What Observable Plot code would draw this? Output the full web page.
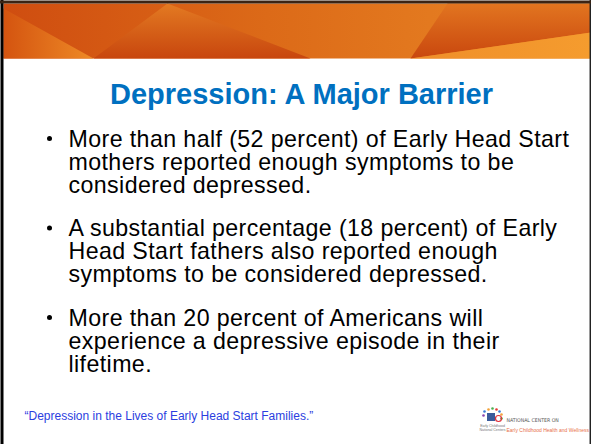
<!DOCTYPE html>
<html>
<head>
<meta charset="utf-8">
<script src="https://cdn.jsdelivr.net/npm/d3@7"></script>
<script src="https://cdn.jsdelivr.net/npm/@observablehq/plot@0.6"></script>
<style>
  html, body { margin: 0; padding: 0; background: #fff; }
  svg { display: block; }
  .body-text text { letter-spacing: 0.4px; }
</style>
</head>
<body>
<div id="chart"></div>
<script>
// ---- Slide content ----
const title = "Depression: A Major Barrier";
const bullet1 = [
  "More than half (52 percent) of Early Head Start",
  "mothers reported enough symptoms to be",
  "considered depressed."
];
const bullet2 = [
  "A substantial percentage (18 percent) of Early",
  "Head Start fathers also reported enough",
  "symptoms to be considered depressed."
];
const bullet3 = [
  "More than 20 percent of Americans will",
  "experience a depressive episode in their",
  "lifetime."
];
const sourceLink = "\u201CDepression in the Lives of Early Head Start Families.\u201D";
const logoLine1 = "NATIONAL CENTER ON";
const logoLine2 = "Early Childhood Health and Wellness";
const logoSmall = ["Early Childhood", "National Centers"];

// header decorative shapes (slide-space vertices)
const headerBase = [[3,3],[591,3],[591,58],[3,58]];
const headerWedgeLeft = [[3,8],[93,58],[3,58]];
const headerWedgeMid = [[93,58],[167,3],[310,58]];
const headerDarkRight = [[447,3],[591,3],[591,32],[410,58]];
const headerLightRight = [[410,58],[591,32],[591,58]];

// ---- Layout (code, not data) ----
const W = 591, H = 444;
const textX = 68, bulletX = 49;
const firstBaseline = 146, lineStep = 23, paraStep = 89.5;

const bodyLines = [bullet1, bullet2, bullet3].flatMap((lines, p) =>
  lines.map((t, i) => ({text: t, y: firstBaseline + p * paraStep + i * lineStep, first: i === 0}))
);
const bullets = bodyLines.filter(d => d.first);

const shapes = [
  {id: "base", fill: "url(#gBase)", pts: headerBase},
  {id: "wl", fill: "url(#gWL)", pts: headerWedgeLeft},
  {id: "wm", fill: "url(#gWM)", pts: headerWedgeMid},
  {id: "dr", fill: "url(#gDR)", pts: headerDarkRight},
  {id: "lr", fill: "url(#gLR)", pts: headerLightRight}
].flatMap(s => s.pts.map(([x, y]) => ({id: s.id, fill: s.fill, x, y})));

const logoDots = [
  {x: 484, y: 411, c: "#3a7bd5"}, {x: 488, y: 409, c: "#f2a23a"}, {x: 492, y: 408, c: "#4caf50"},
  {x: 496, y: 409, c: "#e53935"}, {x: 499, y: 411, c: "#3a7bd5"}, {x: 501, y: 414, c: "#f2a23a"},
  {x: 483, y: 415, c: "#8e44ad"}, {x: 501, y: 418, c: "#4caf50"}
];

const bodyMark = Plot.text(bodyLines, {x: () => textX, y: "y", text: "text", fill: "#000",
  fontSize: 23.2, textAnchor: "start", lineAnchor: "bottom"});

const plot = Plot.plot({
  width: W,
  height: H,
  margin: 0,
  x: {domain: [0, W], range: [0, W], axis: null},
  y: {domain: [0, H], range: [0, H], axis: null},
  style: {background: "#fff", fontFamily: "'Liberation Sans', Arial, sans-serif"},
  marks: [
    // header band
    Plot.line(shapes, {x: "x", y: "y", z: "id", fill: "fill", stroke: null, curve: "linear-closed"}),
    // slide edges
    Plot.ruleX([1.5], {stroke: "#000", strokeWidth: 3}),
    Plot.ruleX([589.8], {stroke: "#222", strokeWidth: 1.5}),
    Plot.ruleY([1.5], {stroke: "#3b2414", strokeWidth: 3}),
    // title
    Plot.text([title], {x: () => 301, y: () => 103, text: d => d, fill: "#0070C0",
      fontSize: 29, fontWeight: "bold", textAnchor: "middle", lineAnchor: "bottom"}),
    // bullets
    Plot.dot(bullets, {x: () => bulletX, y: d => d.y - 8, r: 2.5, fill: "#000", stroke: null}),
    bodyMark,
    // source link
    Plot.text([sourceLink], {x: () => 24, y: () => 419, text: d => d, fill: "#2b3ee0",
      fontSize: 12, textAnchor: "start", lineAnchor: "bottom", textDecoration: "underline"}),
    // logo
    Plot.dot(logoDots, {x: "x", y: "y", r: 1.3, fill: "c", stroke: null}),
    Plot.rect([0], {x1: () => 487, x2: () => 495, y1: () => 413, y2: () => 421, fill: "#3b5b9b"}),
    Plot.dot([0], {x: () => 498, y: () => 418, r: 3, fill: "none", stroke: "#e0303a", strokeWidth: 1.2}),
    Plot.text(logoSmall, {x: () => 492, y: (d, i) => 426 + i * 4, text: d => d, fill: "#777",
      fontSize: 3.5, textAnchor: "middle", lineAnchor: "bottom"}),
    Plot.text([logoLine1], {x: () => 506, y: () => 421, text: d => d, fill: "#555",
      fontSize: 5.2, textAnchor: "start", lineAnchor: "bottom", fontFamily: "'DejaVu Sans Condensed', sans-serif"}),
    Plot.text([logoLine2], {x: () => 506, y: () => 431, text: d => d, fill: "#e8704a",
      fontSize: 5, textAnchor: "start", lineAnchor: "bottom"})
  ]
});

// slight letter spacing on the body text group
d3.select(plot).selectAll("g[aria-label='text']").filter(function() {
  return d3.select(this).selectAll("text").size() === bodyLines.length;
}).attr("class", "body-text");

// gradient definitions for the header band
const svg = d3.select(plot);
const defs = svg.insert("defs", ":first-child");
function grad(id, stops, x2 = "100%", y2 = "0%") {
  const g = defs.append("linearGradient").attr("id", id)
    .attr("x1", "0%").attr("y1", "0%").attr("x2", x2).attr("y2", y2);
  stops.forEach(([o, c]) => g.append("stop").attr("offset", o).attr("stop-color", c));
}
grad("gBase", [["0%", "#cf4d10"], ["45%", "#dc6a18"], ["100%", "#ea8826"]]);
grad("gWL", [["0%", "#d45410"], ["100%", "#ee8a26"]]);
grad("gWM", [["0%", "#e37a22"], ["100%", "#c8460e"]], "0%", "100%");
grad("gDR", [["0%", "#e27520"], ["100%", "#c9470e"]], "0%", "100%");
grad("gLR", [["0%", "#ef8e2a"], ["100%", "#f59c2e"]]);

document.getElementById("chart").appendChild(plot);
</script>
</body>
</html>
